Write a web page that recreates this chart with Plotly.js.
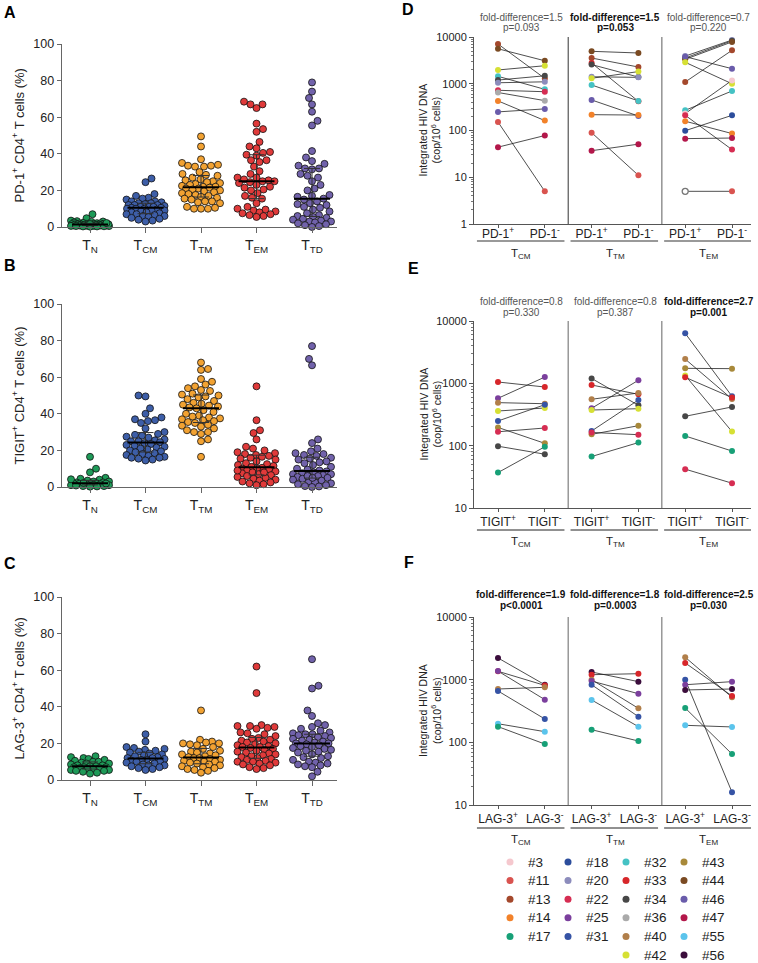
<!DOCTYPE html>
<html><head><meta charset="utf-8">
<script src="https://cdn.plot.ly/plotly-3.0.1.min.js"></script>
<style>html,body{margin:0;padding:0;background:#fff}#chart{width:758px;height:963px}</style>
</head><body><div id="chart"></div>
<script>
// ---------------- DATA ----------------
const subsetLabels = ['T<sub>N</sub>','T<sub>CM</sub>','T<sub>TM</sub>','T<sub>EM</sub>','T<sub>TD</sub>'];
const yTicksPct = [0,20,40,60,80,100];

// Panel A: PD-1+ CD4+ T cells (%)
const pd1_TN  = [7,4.8,3.5,3.2,3,2.8,2.5,2.3,2.1,2,1.9,1.8,1.7,1.6,1.5,1.5,1.4,1.4,1.3,1.2,1.2,1.1,1,1,0.9,0.9,0.8,0.8,0.7,0.6,0.6,0.5,0.5,0.4,0.3,0.3,0.2,1.5,1.6,2.2];
const pd1_TCM = [26.5,24.5,18,17,16,15.5,15,14,14,13.5,13,13,12.5,12,12,12,11.5,11,11,11,10.5,10.5,10,10,10,9.5,9,9,8.5,8,8,7.5,7,7,6.5,6,6,5.5,5,4.5,4,3.5,3];
const pd1_TTM = [49.5,44,37,35,34,33.5,33.5,33,33,30,29,28.5,28,27,26,25.5,25,24.5,24,23.5,23,22.5,22,22,21.5,21,21,20.5,20,19.5,19,18.5,18,17.5,17,16.5,16,15.5,15,14,14,13.5,13,11,10.5,10,10,10];
const pd1_TEM = [68.5,67,67,65,56.5,53.5,52,46.5,44,43,41,40.5,39.5,39,36.5,36.5,35.5,33,30.5,29,27,27,26,25.5,25,25,24.5,24,23,22,21.5,20.5,20,18.5,17,16,15.5,13,11,10,9.5,9,8.5,8,7.5,7,6.5,6,5.5];
const pd1_TTD = [79,74,70.5,67,63,58,55.5,41.5,38,36,34.5,33.5,32,32,31.5,29,28,27,13,12,25,23,21,20,17.5,17,16.5,15.5,15,14,12.5,11,10.5,9.5,8.5,7.5,6.5,6,5.5,5,4.5,4,3.5,3,3,2.5,2,1.5,1,0.5,0];

// Panel B: TIGIT+ CD4+ T cells (%)
const tigit_TN  = [16.5,10,8,5,4.5,4,3.5,3,3,2.5,2.5,2,2,2,1.8,1.5,1.5,1.2,1,1,0.8,0.5,0.5,0.3,0.2,2.2,1.9,4.2];
const tigit_TCM = [50,49.5,43,40,38,37,36.5,36,35,32,30,29,28.5,28,27.5,27,26,25.5,25,25,24.5,24,23.5,23,22.5,22,21.5,21,20.5,20,19.5,19,18.5,18,17.5,17,16.5,16,16,15.5,15,14.5];
const tigit_TTM = [68,64.5,64,59,57.5,56,55,54,53,52.5,51,50.5,50,49.5,49,48,47,46,45.5,45,44.5,44,43.5,43,42,41,40,39,38.5,38,37.5,37,36.5,36,35.5,35,34,33.5,33,32,31,30,30,29,26,25,16.5];
const tigit_TEM = [55,36.5,31,29.5,26,22,21,20,19,18.5,18,17.5,17,16.5,16,15.5,15,14,13,12.5,12,11.5,11,10.5,10,10,9.5,9,8.5,8,7.5,7,6.5,6,5.5,5,4.5,4,3.5,3,2.5,2,1.5,1,9,8];
const tigit_TTD = [77,70,66.5,26,24,21,19.5,18.5,18,17.5,17,16,15.5,15,14,13.5,13,12,11,10,9.5,9,8.5,8,7.5,7,7,6.5,6,5.5,5,4.5,4,3.5,3,2.5,2,1.5,1,0.5,0.3,0,6,5];

// Panel C: LAG-3+ CD4+ T cells (%)
const lag3_TN  = [13,12.5,12,11.5,11,10.5,10,10,9.5,9,9,8.5,8,8,7.5,7.5,7,7,7,6.5,6.5,6,6,5.5,5.5,5,5,4.5,4,3.5];
const lag3_TCM = [25,21,18,17.5,17,16.5,16,15.5,15,14.5,14,13.5,13,12.5,12,12,11.5,11,11,10.5,10,10,9.5,9,8.5,8,8,7.5,7,6.5,6,5.5];
const lag3_TTM = [38,22,21,20.5,20,20,19.5,19,18,17,16,15.5,15,14.5,14,13.5,13,12.5,12,12,11.5,11,10.5,10,10,9.5,9,8.5,8,7.5,7,6.5,6,5.5,5,4];
const lag3_TEM = [62,47.5,30,29.5,29.5,29,28.5,28,26,25.5,25,24,23,22.5,22,21.5,21,20.5,20,19.5,19,18.5,18,18,17.5,17,16.5,16,15.5,15,14.5,14,13.5,13,12.5,12,11.5,11,10.5,10,10,9.5,9,8.5,8,7,6.5,6];
const lag3_TTD = [66,51.5,50,38,35,31,30,29,28,27,26,25.5,25,25,24.5,24,23.5,23,22.5,22,21.5,21,20.5,20,20,19.5,19,18.5,18,17.5,17,16.5,16,15.5,15,14,13,12.5,12,11,10,9.5,9,8.5,8,7.5,7,4.5,2];

// Panel D: integrated HIV DNA (cop/10^6 cells), PD-1+ vs PD-1-
const pdTCM_id  = ['#13','#44','#42','#32','#34','#20','#22','#36','#14','#46','#11','#47'];
const pdTCM_pos = [7080,5600,1970,1440,1200,1050,725,650,430,250,152,44];
const pdTCM_neg = [1300,3100,2430,760,1480,1100,675,435,163,290,5,78];
const pdTTM_id  = ['#44','#13','#33','#34','#20','#42','#32','#46','#14','#11','#47'];
const pdTTM_pos = [4940,3550,2780,2570,1410,1310,940,450,218,90,37];
const pdTTM_neg = [4550,2280,420,1390,1370,1820,430,204,214,11,51];
const pdTEM_id  = ['#20','#34','#44','#46','#42','#13','#32','#3','#22','#14','#18','#47','#11'];
const pdTEM_pos = [3900,3550,3330,3800,2880,1090,270,230,212,158,99,67,5];
const pdTEM_neg = [8620,8300,7850,2100,1000,5190,700,1180,39,86,211,69,5];
const pdTEM_openPos = [false,false,false,false,false,false,false,false,false,false,false,false,true];

// Panel E: TIGIT+ vs TIGIT-
const tgTCM_id  = ['#33','#25','#40','#42','#31','#43','#22','#34','#17'];
const tgTCM_pos = [1050,575,490,360,249,196,167,98,37];
const tgTCM_neg = [873,1260,471,402,454,109,192,73,96];
const tgTTM_id  = ['#34','#33','#40','#25','#42','#31','#43','#22','#17'];
const tgTTM_pos = [1200,940,555,398,373,172,152,163,67];
const tgTTM_neg = [444,667,700,1120,392,540,209,150,112];
const tgTEM_id  = ['#31','#40','#43','#42','#33','#34','#17','#22'];
const tgTEM_pos = [6340,2450,1740,1340,1250,296,143,42];
const tgTEM_neg = [620,560,1720,168,590,418,82,25];

// Panel F: LAG-3+ vs LAG-3-
const lgTCM_id  = ['#56','#33','#25','#40','#31','#55','#17'];
const lgTCM_pos = [2220,1360,1370,710,660,198,178];
const lgTCM_neg = [830,810,480,755,236,148,94];
const lgTTM_id  = ['#56','#33','#40','#25','#31','#55','#17'];
const lgTTM_pos = [1325,1200,1000,950,830,474,159];
const lgTTM_neg = [930,1245,349,597,257,178,105];
const lgTEM_id  = ['#40','#33','#31','#25','#56','#17','#55'];
const lgTEM_pos = [2280,1850,1000,830,685,353,187];
const lgTEM_neg = [523,550,16,930,710,65,176];

const foldD = ['fold-difference=1.5','fold-difference=1.5','fold-difference=0.7'];
const pD    = ['p=0.093','p=0.053','p=0.220'];
const boldD = [false,true,false];
const foldE = ['fold-difference=0.8','fold-difference=0.8','fold-difference=2.7'];
const pE    = ['p=0.330','p=0.387','p=0.001'];
const boldE = [false,false,true];
const foldF = ['fold-difference=1.9','fold-difference=1.8','fold-difference=2.5'];
const pF    = ['p<0.0001','p=0.0003','p=0.030'];
const boldF = [true,true,true];
const groupLabels = ['T<sub>CM</sub>','T<sub>TM</sub>','T<sub>EM</sub>'];

const legendColumns = [
  ['#3','#11','#13','#14','#17'],
  ['#18','#20','#22','#25','#31'],
  ['#32','#33','#34','#36','#40','#42'],
  ['#43','#44','#46','#47','#55','#56']
];

// ---------------- STYLES ----------------
const FONT = 'Arial, "Liberation Sans", sans-serif';
const subsetColors = ['#1e9a58','#3d5ea8','#f2a232','#e03a3a','#7162ab'];
const subjectColors = {
  '#3':'#f5c8ce','#11':'#d9534f','#13':'#a4482c','#14':'#f2822a','#17':'#17a077',
  '#18':'#2c4d9c','#20':'#8c8cbc','#22':'#d62d52','#25':'#7b3f9d','#31':'#3553a5',
  '#32':'#45c2c4','#33':'#d7262a','#34':'#474747','#36':'#aaaaaa','#40':'#b17f4a',
  '#42':'#d6e034','#43':'#a8893a','#44':'#7a4a22','#46':'#6a5cab','#47':'#b3174a',
  '#55':'#5bc4ec','#56':'#3b0d3c'
};
const W = 758, H = 963;
const px = v => v / W;
const py = v => 1 - v / H;

// ---------------- HELPERS ----------------
function swarmOffsets(vals, yScale, d, maxW) {
  const order = vals.map((v, i) => i).sort((a, b) => vals[a] - vals[b]);
  const placed = [];
  const off = new Array(vals.length).fill(0);
  let flip = 1;
  for (const i of order) {
    const y = vals[i] * yScale;
    const near = placed.filter(p => Math.abs(p.y - y) < d);
    const pen = s => {
      let m = 0;
      for (const p of near) {
        const dd = Math.hypot(p.x - s, p.y - y);
        if (dd < d) m = Math.max(m, d - dd);
      }
      return m;
    };
    let best = 0, bestPen = pen(0);
    if (bestPen > 0) {
      for (let k = 0.5; k <= maxW; k += 0.5) {
        const a = pen(k * flip), b = pen(-k * flip);
        if (a < bestPen - 1e-6) { bestPen = a; best = k * flip; }
        if (b < bestPen - 1e-6) { bestPen = b; best = -k * flip; }
        if (bestPen === 0) break;
      }
      flip = -flip;
    }
    placed.push({x: best, y: y});
    off[i] = best;
  }
  return off;
}
function quantile(sorted, q) {
  const pos = (sorted.length - 1) * q;
  const lo = Math.floor(pos), hi = Math.ceil(pos);
  return sorted[lo] + (sorted[hi] - sorted[lo]) * (pos - lo);
}

const traces = [];
const annotations = [];
const shapes = [];
const layout = {
  width: W, height: H, margin: {l: 0, r: 0, t: 0, b: 0},
  paper_bgcolor: '#fff', plot_bgcolor: 'rgba(0,0,0,0)',
  showlegend: false, font: {family: FONT, color: '#222', size: 12},
  annotations: annotations, shapes: shapes
};

// ---------------- SCATTER PANELS A-C ----------------
const scatterPanels = [
  {s: '', top: 44, bottom: 227, data: [pd1_TN, pd1_TCM, pd1_TTM, pd1_TEM, pd1_TTD],
   title: 'PD-1<sup>+</sup> CD4<sup>+</sup> T cells (%)', letter: 'A', ly: 12},
  {s: '2', top: 304, bottom: 487, data: [tigit_TN, tigit_TCM, tigit_TTM, tigit_TEM, tigit_TTD],
   title: 'TIGIT<sup>+</sup> CD4<sup>+</sup> T cells (%)', letter: 'B', ly: 265},
  {s: '3', top: 597, bottom: 780, data: [lag3_TN, lag3_TCM, lag3_TTM, lag3_TEM, lag3_TTD],
   title: 'LAG-3<sup>+</sup> CD4<sup>+</sup> T cells (%)', letter: 'C', ly: 563}
];
const sxL = 62, sxR = 337, catPx = 55.5, cat0 = 90;
scatterPanels.forEach(p => {
  const xa = 'x' + p.s, ya = 'y' + p.s;
  const yScale = (p.bottom - p.top) / 100;
  layout['xaxis' + p.s] = {
    domain: [px(sxL), px(sxR)], range: [(sxL - cat0) / catPx, (sxR - cat0) / catPx],
    anchor: ya, showgrid: false, zeroline: false, showline: true, linecolor: '#666', linewidth: 1.3,
    ticks: 'outside', ticklen: 5, tickcolor: '#666', tickvals: [0,1,2,3,4], ticktext: subsetLabels,
    tickfont: {size: 14, color: '#222', family: FONT}, fixedrange: true
  };
  layout['yaxis' + p.s] = {
    domain: [py(p.bottom), py(p.top)], range: [0, 100], anchor: xa,
    showgrid: false, zeroline: false, showline: true, linecolor: '#666', linewidth: 1.3,
    ticks: 'outside', ticklen: 4, tickcolor: '#666', tickvals: yTicksPct,
    tickfont: {size: 12.5, color: '#222', family: FONT}, fixedrange: true
  };
  const iqrX = [], iqrY = [], medX = [], medY = [];
  p.data.forEach((vals, c) => {
    const offs = swarmOffsets(vals, yScale, 7, 19);
    traces.push({
      type: 'scatter', mode: 'markers', xaxis: xa, yaxis: ya, cliponaxis: false,
      x: offs.map(o => c + o / catPx), y: vals, hoverinfo: 'y',
      marker: {size: 7, color: subsetColors[c], line: {color: '#111', width: 0.8}}
    });
    const sorted = vals.slice().sort((a, b) => a - b);
    const q1 = quantile(sorted, 0.25), med = quantile(sorted, 0.5), q3 = quantile(sorted, 0.75);
    const cw = 8 / catPx, mw = 18 / catPx;
    iqrX.push(c, c, null, c - cw, c + cw, null, c - cw, c + cw, null);
    iqrY.push(q1, q3, null, q1, q1, null, q3, q3, null);
    medX.push(c - mw, c + mw, null);
    medY.push(med, med, null);
  });
  traces.push({type: 'scatter', mode: 'lines', xaxis: xa, yaxis: ya, x: iqrX, y: iqrY,
    line: {color: '#333', width: 1}, hoverinfo: 'skip', cliponaxis: false});
  traces.push({type: 'scatter', mode: 'lines', xaxis: xa, yaxis: ya, x: medX, y: medY,
    line: {color: '#000', width: 2}, hoverinfo: 'skip', cliponaxis: false});
  annotations.push({xref: 'paper', yref: 'paper', x: px(18), y: py((p.top + p.bottom) / 2),
    text: p.title, textangle: -90, showarrow: false, xanchor: 'center', yanchor: 'middle',
    font: {size: 13, color: '#222', family: FONT}});
  annotations.push({xref: 'paper', yref: 'paper', x: px(2), y: py(p.ly), text: '<b>' + p.letter + '</b>',
    showarrow: false, xanchor: 'left', yanchor: 'middle', font: {size: 16, color: '#000', family: FONT}});
});

// ---------------- PAIRED PANELS D-F ----------------
const pairPanels = [
  {s: '4', top: 37, bottom: 224, range: [0, 4], ticks: [1,10,100,1000,10000], standoff: -4,
   groups: [[pdTCM_id, pdTCM_pos, pdTCM_neg], [pdTTM_id, pdTTM_pos, pdTTM_neg], [pdTEM_id, pdTEM_pos, pdTEM_neg, pdTEM_openPos]],
   lab: ['PD-1<sup>+</sup>', 'PD-1<sup>-</sup>'], fold: foldD, p: pD, bold: boldD,
   t1: 17, t2: 27.5, under: 241, glab: 254, ulColor: '#999', ulW: 2, sepColors: ['#333', '#999'], sepW: [1, 1.6],
   letter: 'D', lx: 400, ly: 9},
  {s: '5', top: 321, bottom: 508, range: [1, 4], ticks: [10,100,1000,10000], standoff: 0,
   groups: [[tgTCM_id, tgTCM_pos, tgTCM_neg], [tgTTM_id, tgTTM_pos, tgTTM_neg], [tgTEM_id, tgTEM_pos, tgTEM_neg]],
   lab: ['TIGIT<sup>+</sup>', 'TIGIT<sup>-</sup>'], fold: foldE, p: pE, bold: boldE,
   t1: 302, t2: 312.5, under: 530, glab: 542, ulColor: '#222', ulW: 1, sepColors: ['#888', '#888'], sepW: [1.3, 1.3],
   letter: 'E', lx: 406, ly: 268},
  {s: '6', top: 617, bottom: 805, range: [1, 4], ticks: [10,100,1000,10000], standoff: 0,
   groups: [[lgTCM_id, lgTCM_pos, lgTCM_neg], [lgTTM_id, lgTTM_pos, lgTTM_neg], [lgTEM_id, lgTEM_pos, lgTEM_neg]],
   lab: ['LAG-3<sup>+</sup>', 'LAG-3<sup>-</sup>'], fold: foldF, p: pF, bold: boldF,
   t1: 594, t2: 605, under: 828, glab: 840, ulColor: '#222', ulW: 1, sepColors: ['#888', '#888'], sepW: [1.3, 1.3],
   letter: 'F', lx: 402, ly: 562}
];
const pxL = 474, pxR = 751, pair0 = 498, pairPx = 46.8;
pairPanels.forEach(p => {
  const xa = 'x' + p.s, ya = 'y' + p.s;
  layout['xaxis' + p.s] = {
    domain: [px(pxL), px(pxR)], range: [(pxL - pair0) / pairPx, (pxR - pair0) / pairPx], anchor: ya,
    showgrid: false, zeroline: false, showline: true, linecolor: '#555', linewidth: 1,
    ticks: 'outside', ticklen: 3, tickcolor: '#555', tickvals: [0,1,2,3,4,5],
    ticktext: [p.lab[0], p.lab[1], p.lab[0], p.lab[1], p.lab[0], p.lab[1]],
    ticklabelstandoff: p.standoff,
    tickfont: {size: 12, color: '#222', family: FONT}, fixedrange: true
  };
  layout['yaxis' + p.s] = {
    type: 'log', domain: [py(p.bottom), py(p.top)], range: p.range, anchor: xa,
    showgrid: false, zeroline: false, showline: true, linecolor: '#555', linewidth: 1,
    ticks: 'outside', ticklen: 4, tickcolor: '#555', tickvals: p.ticks, ticktext: p.ticks.map(String),
    minor: {dtick: 'D1', ticks: 'outside', ticklen: 2, tickcolor: '#777', showgrid: false},
    tickfont: {size: 11, color: '#222', family: FONT}, fixedrange: true
  };
  const lx = [], ly = [], mx = [], my = [], mc = [], ml = [];
  p.groups.forEach((g, gi) => {
    const [ids, pos, neg, open] = g;
    ids.forEach((id, k) => {
      lx.push(2 * gi, 2 * gi + 1, null);
      ly.push(pos[k], neg[k], null);
    });
    ids.forEach((id, k) => {
      const isOpen = open && open[k];
      mx.push(2 * gi); my.push(pos[k]);
      mc.push(isOpen ? '#fff' : subjectColors[id]);
      ml.push(isOpen ? 1.3 : 0);
      mx.push(2 * gi + 1); my.push(neg[k]);
      mc.push(subjectColors[id]); ml.push(0);
    });
    const b = p.bold[gi];
    const col = b ? '#111' : '#555';
    annotations.push({xref: xa, yref: 'paper', x: 2 * gi + 0.5, y: py(p.t1), text: b ? '<b>' + p.fold[gi] + '</b>' : p.fold[gi],
      showarrow: false, xanchor: 'center', yanchor: 'middle', font: {size: 10, color: col, family: FONT}});
    annotations.push({xref: xa, yref: 'paper', x: 2 * gi + 0.5, y: py(p.t2), text: b ? '<b>' + p.p[gi] + '</b>' : p.p[gi],
      showarrow: false, xanchor: 'center', yanchor: 'middle', font: {size: 10, color: col, family: FONT}});
    shapes.push({type: 'line', xref: xa, yref: 'paper', x0: 2 * gi - 0.45, x1: 2 * gi + 1.42,
      y0: py(p.under), y1: py(p.under), line: {color: p.ulColor, width: p.ulW}});
    annotations.push({xref: xa, yref: 'paper', x: 2 * gi + 0.5, y: py(p.glab), text: groupLabels[gi],
      showarrow: false, xanchor: 'center', yanchor: 'middle', font: {size: 11.5, color: '#222', family: FONT}});
  });
  [1.5, 3.5].forEach((xs, i) => shapes.push({type: 'line', xref: xa, yref: 'paper', x0: xs, x1: xs,
    y0: py(p.bottom), y1: py(p.top), line: {color: p.sepColors[i], width: p.sepW[i]}}));
  traces.push({type: 'scatter', mode: 'lines', xaxis: xa, yaxis: ya, x: lx, y: ly,
    line: {color: '#222', width: 0.8}, hoverinfo: 'skip', cliponaxis: false});
  traces.push({type: 'scatter', mode: 'markers', xaxis: xa, yaxis: ya, x: mx, y: my, cliponaxis: false,
    marker: {size: 6, color: mc, line: {color: '#777', width: ml}}, hoverinfo: 'y'});
  annotations.push({xref: 'paper', yref: 'paper', x: px(430), y: py((p.top + p.bottom) / 2),
    text: 'Integrated HIV DNA<br>(cop/10<sup>6</sup> cells)', textangle: -90, showarrow: false,
    xanchor: 'center', yanchor: 'middle', font: {size: 10.5, color: '#222', family: FONT}});
  annotations.push({xref: 'paper', yref: 'paper', x: px(p.lx), y: py(p.ly), text: '<b>' + p.letter + '</b>',
    showarrow: false, xanchor: 'left', yanchor: 'middle', font: {size: 16, color: '#000', family: FONT}});
});

// ---------------- SUBJECT LEGEND ----------------
layout.xaxis7 = {domain: [0, 1], range: [0, W], anchor: 'y7', visible: false, fixedrange: true};
layout.yaxis7 = {domain: [0, 1], range: [H, 0], anchor: 'x7', visible: false, fixedrange: true};
const legX0 = 510, legDX = 58, legY0 = 862, legDY = 18.6, legGap = 16;
const lgx = [], lgy = [], lgc = [];
legendColumns.forEach((col, ci) => col.forEach((id, ri) => {
  const x = legX0 + ci * legDX, y = legY0 + ri * legDY;
  lgx.push(x); lgy.push(y); lgc.push(subjectColors[id]);
  annotations.push({xref: 'x7', yref: 'y7', x: x + legGap, y: y, text: id, showarrow: false,
    xanchor: 'left', yanchor: 'middle', font: {size: 13.5, color: '#222', family: FONT}});
}));
traces.push({type: 'scatter', mode: 'markers', xaxis: 'x7', yaxis: 'y7', x: lgx, y: lgy,
  marker: {size: 7, color: lgc}, hoverinfo: 'skip'});

Plotly.newPlot('chart', traces, layout, {displayModeBar: false, staticPlot: true});
</script></body></html>
